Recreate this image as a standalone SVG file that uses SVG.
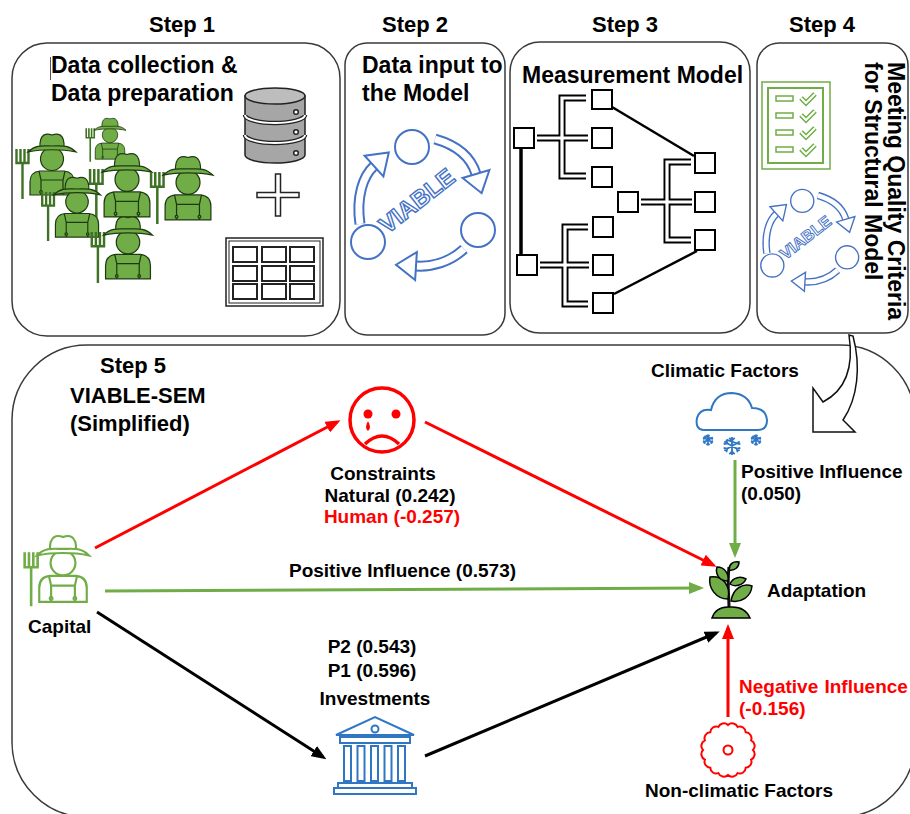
<svg xmlns="http://www.w3.org/2000/svg" xmlns:xlink="http://www.w3.org/1999/xlink" width="910" height="814" viewBox="0 0 910 814">
<style>
  text { font-family: "Liberation Sans", Arial, sans-serif; font-weight: bold; fill: #000; }
  .step { font-size: 22px; text-anchor: middle; }
  .head { font-size: 23px; }
  .lbl { font-size: 19px; }
  .mid { text-anchor: middle; }
  .red { fill: #FF0000; }
  .box { fill: #fff; stroke: #3a3a3a; stroke-width: 1.5; }
  .sq { fill: #fff; stroke: #000; stroke-width: 2; }
  .br-o { fill: none; stroke: #000; stroke-width: 7; }
  .br-i { fill: none; stroke: #fff; stroke-width: 3.2; }
  .cyc-o { fill: none; stroke: #4472C4; stroke-width: 11; }
  .cyc-i { fill: none; stroke: #fff; stroke-width: 7; }
  .cyc-c { fill: #fff; stroke: #4472C4; stroke-width: 2; }
  .icon-b { fill: none; stroke: #2F77C3; stroke-width: 2; }
  .edge { fill: none; stroke-width: 3; }
  .chk-o { fill: none; stroke: #70AD47; stroke-width: 5; stroke-linejoin: miter; }
  .chk-i { fill: none; stroke: #fff; stroke-width: 2; }
  .leaf { fill: #70AD47; stroke: #000; stroke-width: 1.5; }
  .fork { fill: none; stroke: currentColor; stroke-width: 2.4; }
</style>
<defs>
  <marker id="ah-red" markerUnits="userSpaceOnUse" markerWidth="15" markerHeight="12" refX="11" refY="6" orient="auto">
    <path d="M0,0 L15,6 L0,12 Z" fill="#FF0000"/>
  </marker>
  <marker id="ah-green" markerUnits="userSpaceOnUse" markerWidth="15" markerHeight="12" refX="11" refY="6" orient="auto">
    <path d="M0,0 L15,6 L0,12 Z" fill="#70AD47"/>
  </marker>
  <marker id="ah-black" markerUnits="userSpaceOnUse" markerWidth="15" markerHeight="12" refX="11" refY="6" orient="auto">
    <path d="M0,0 L15,6 L0,12 Z" fill="#000"/>
  </marker>
  <marker id="ah-cyc" markerUnits="userSpaceOnUse" markerWidth="24" markerHeight="32" refX="2" refY="16" orient="auto">
    <path d="M2,2 L22,16 L2,30 Z" fill="#fff" stroke="#4472C4" stroke-width="2"/>
  </marker>

  <!-- farmer figure, local origin at the hat centre -->
  <g id="farmer">
    <path class="fork" d="M-35.5,2 V16 H-23.5 V2 M-31.5,2 V16 M-27.5,2 V16 M-29.5,16 V52"/>
    <path d="M-22,48 V35 Q-22,25 -12,24 H12 Q22,25 22,35 V48 Z"/>
    <path d="M-11,48 V33 H11 V48 M-11,33 L-13,24 M11,33 L13,24" fill="none"/>
    <circle cx="-11" cy="45" r="1.3"/>
    <circle cx="11" cy="45" r="1.3"/>
    <circle cx="0" cy="12" r="11.5"/>
    <path d="M-12,1 C-13,-14 -5,-14 0,-12 C5,-14 13,-14 12,1 Z"/>
    <path d="M-24,5 C-16,-3 -8,-1 0,-1 C8,-1 16,-3 24,5 C10,2 -10,2 -24,5 Z"/>
  </g>

  <!-- snowflake -->
  <g id="flake">
    <path d="M0,-10 V10 M-8.66,-5 L8.66,5 M-8.66,5 L8.66,-5 M-3,-9 L0,-6 L3,-9 M-3,9 L0,6 L3,9 M-9.3,-2 L-5.2,-3 L-6.3,-7 M9.3,2 L5.2,3 L6.3,7 M-9.3,2 L-5.2,3 L-6.3,7 M9.3,-2 L5.2,-3 L-6.3,-7"/>
  </g>

  <!-- VIABLE cycle of three circles and curved arrows -->
  <g id="viableCycle">
    <path class="cyc-o" d="M360,224 C356,197 363,176 374,166"/>
    <path class="cyc-i" d="M360,224 C356,197 363,176 374,166" marker-end="url(#ah-cyc)"/>
    <path class="cyc-o" d="M435,139 C456,145 471,157 476,174"/>
    <path class="cyc-i" d="M435,139 C456,145 471,157 476,174" marker-end="url(#ah-cyc)"/>
    <path class="cyc-o" d="M464,249 C450,262 432,267 416,266"/>
    <path class="cyc-i" d="M464,249 C450,262 432,267 416,266" marker-end="url(#ah-cyc)"/>
    <circle class="cyc-c" cx="412" cy="147" r="17"/>
    <circle class="cyc-c" cx="478" cy="230" r="17"/>
    <circle class="cyc-c" cx="368" cy="242" r="17"/>
    <text x="0" y="8" transform="translate(417,201) rotate(-38)" text-anchor="middle" font-size="24" style="fill:#fff;stroke:#4472C4;stroke-width:1.4px">VIABLE</text>
  </g>
</defs>

<rect width="910" height="814" fill="#fff"/>

<!-- Step 1 -->
<g id="step1">
  <text class="step" x="182" y="32">Step 1</text>
  <rect class="box" x="12" y="43" width="328" height="293" rx="35"/>
  <line x1="50.5" y1="57" x2="50.5" y2="80" stroke="#555" stroke-width="1"/>
  <text class="head" x="51" y="73">Data collection &amp;</text>
  <text class="head" x="51" y="101">Data preparation</text>
  <g fill="#70AD47" stroke="#1f3a12" stroke-width="1.2" color="#3f7224">
    <use href="#farmer" transform="translate(52,147)"/>
    <use href="#farmer" transform="translate(110,127) scale(0.67)"/>
    <use href="#farmer" transform="translate(127,167) scale(1.04)"/>
    <use href="#farmer" transform="translate(188,170) scale(1.04)"/>
    <use href="#farmer" transform="translate(77,190) scale(0.98)"/>
    <use href="#farmer" transform="translate(128,230) scale(1.02)"/>
  </g>
  <!-- database -->
  <g stroke="#222" stroke-width="1.5">
    <path d="M245,96 V155 A30,8 0 0 0 305,155 V96 Z" fill="#a6a6a6"/>
    <ellipse cx="275" cy="96" rx="30" ry="8" fill="#bdbdbd"/>
    <path d="M245,115 A30,8 0 0 0 305,115 M245,135 A30,8 0 0 0 305,135" fill="none" stroke-width="4.5"/>
    <path d="M245,115 A30,8 0 0 0 305,115 M245,135 A30,8 0 0 0 305,135" fill="none" stroke="#fff" stroke-width="2"/>
    <circle cx="296" cy="112" r="2.3" fill="#fff"/>
    <circle cx="296" cy="132" r="2.3" fill="#fff"/>
    <circle cx="296" cy="153" r="2.3" fill="#fff"/>
  </g>
  <polygon points="275.5,174 280.5,174 280.5,192.5 299,192.5 299,197.5 280.5,197.5 280.5,216 275.5,216 275.5,197.5 257,197.5 257,192.5 275.5,192.5" fill="#fff" stroke="#222" stroke-width="1.5"/>
  <!-- data table -->
  <g fill="#fff" stroke="#222">
    <rect x="226" y="238" width="97" height="68" stroke-width="1.5"/>
    <rect x="229" y="241" width="91" height="62" stroke-width="1"/>
    <g stroke-width="2">
      <rect x="233" y="247" width="24" height="15"/>
      <rect x="262" y="247" width="24" height="15"/>
      <rect x="290" y="247" width="24" height="15"/>
      <rect x="233" y="266" width="24" height="15"/>
      <rect x="262" y="266" width="24" height="15"/>
      <rect x="290" y="266" width="24" height="15"/>
      <rect x="233" y="284" width="24" height="15"/>
      <rect x="262" y="284" width="24" height="15"/>
      <rect x="290" y="284" width="24" height="15"/>
    </g>
  </g>
</g>

<!-- Step 2 -->
<g id="step2">
  <text class="step" x="415" y="32">Step 2</text>
  <rect class="box" x="345" y="43" width="160" height="292" rx="22"/>
  <text class="head" x="362" y="73">Data input to</text>
  <text class="head" x="362" y="101">the Model</text>
  <use href="#viableCycle"/>
</g>

<!-- Step 3 -->
<g id="step3">
  <text class="step" x="625" y="32">Step 3</text>
  <rect class="box" x="510" y="42" width="240" height="291" rx="30"/>
  <text class="head" x="522" y="83">Measurement Model</text>
  <line x1="521" y1="148" x2="521" y2="256" stroke="#000" stroke-width="3.5"/>
  <line x1="612" y1="107" x2="694" y2="156" stroke="#000" stroke-width="2.5"/>
  <line x1="614" y1="294" x2="697" y2="251" stroke="#000" stroke-width="2.5"/>
  <path class="br-o" d="M586,98 H562 V176 H586 M537,138 H588"/>
  <path class="br-i" d="M586,98 H562 V176 H586 M537,138 H588"/>
  <path class="br-o" d="M588,227 H565 V304 H588 M540,265 H589"/>
  <path class="br-i" d="M588,227 H565 V304 H588 M540,265 H589"/>
  <path class="br-o" d="M691,162 H667 V240 H691 M641,202 H692"/>
  <path class="br-i" d="M691,162 H667 V240 H691 M641,202 H692"/>
  <rect class="sq" x="514" y="128" width="20" height="20"/>
  <rect class="sq" x="517" y="255" width="20" height="20"/>
  <rect class="sq" x="592" y="90" width="20" height="19"/>
  <rect class="sq" x="592" y="128" width="20" height="20"/>
  <rect class="sq" x="592" y="167" width="20" height="20"/>
  <rect class="sq" x="593" y="217" width="20" height="20"/>
  <rect class="sq" x="593" y="255" width="20" height="20"/>
  <rect class="sq" x="593" y="293" width="20" height="20"/>
  <rect class="sq" x="618" y="192" width="20" height="20"/>
  <rect class="sq" x="695" y="153" width="20" height="20"/>
  <rect class="sq" x="695" y="192" width="20" height="20"/>
  <rect class="sq" x="695" y="230" width="20" height="20"/>
</g>

<!-- Step 4 -->
<g id="step4">
  <text class="step" x="822" y="32">Step 4</text>
  <rect class="box" x="757" y="43" width="151" height="290" rx="22"/>
  <text class="head" transform="translate(888,62) rotate(90)">Meeting Quality Criteria</text>
  <text class="head" transform="translate(865,62) rotate(90)">for Structural Model</text>
  <g fill="none" stroke="#70AD47">
    <rect x="762" y="82" width="68" height="87" stroke-width="1.5"/>
    <rect x="768" y="88" width="55" height="75" stroke-width="2"/>
    <rect x="776" y="96" width="17" height="5" stroke-width="1.5"/>
    <rect x="776" y="113" width="17" height="5" stroke-width="1.5"/>
    <rect x="776" y="130" width="17" height="5" stroke-width="1.5"/>
    <rect x="776" y="147" width="17" height="5" stroke-width="1.5"/>
  </g>
  <path class="chk-o" d="M801,98 L806,103 L815,94 M801,115 L806,120 L815,111 M801,132 L806,137 L815,128 M801,149 L806,154 L815,145"/>
  <path class="chk-i" d="M801,98 L806,103 L815,94 M801,115 L806,120 L815,111 M801,132 L806,137 L815,128 M801,149 L806,154 L815,145"/>
  <use href="#viableCycle" transform="translate(807,241) scale(0.68) translate(-419,-206)"/>
</g>

<!-- Step 5 frame and link from step 4 -->
<g id="step5">
  <rect class="box" x="12" y="345" width="903" height="472" rx="75"/>
  <path d="M849,335 C854,368 846,390 823,402 L813,388 L813,432 L855,432 L843,420 C858,398 861,366 853,336 Z" fill="#fff" stroke="#111" stroke-width="1.5" stroke-linejoin="miter"/>
  <text class="step" x="100" y="373" style="text-anchor:start">Step 5</text>
  <text class="step" x="70" y="403" style="text-anchor:start">VIABLE-SEM</text>
  <text class="step" x="70" y="431" style="text-anchor:start">(Simplified)</text>
</g>

<!-- connectors -->
<g id="connectors">
  <line class="edge" x1="95" y1="548" x2="337" y2="422" stroke="#FF0000" marker-end="url(#ah-red)"/>
  <line class="edge" x1="425" y1="422" x2="713" y2="565" stroke="#FF0000" marker-end="url(#ah-red)"/>
  <line class="edge" x1="105" y1="591" x2="700" y2="588" stroke="#70AD47" marker-end="url(#ah-green)"/>
  <line class="edge" x1="735" y1="460" x2="735" y2="554" stroke="#70AD47" marker-end="url(#ah-green)"/>
  <line class="edge" x1="97" y1="612" x2="323" y2="757" stroke="#000" marker-end="url(#ah-black)"/>
  <line class="edge" x1="425" y1="756" x2="716" y2="633" stroke="#000" marker-end="url(#ah-black)"/>
  <line class="edge" x1="728" y1="717" x2="728" y2="628" stroke="#FF0000" marker-end="url(#ah-red)"/>
  <text class="lbl" x="289" y="577">Positive Influence (0.573)</text>
  <text class="lbl" x="741" y="478">Positive Influence</text>
  <text class="lbl" x="741" y="500">(0.050)</text>
  <text class="lbl red" x="739" y="693" word-spacing="1">Negative Influence</text>
  <text class="lbl red" x="739" y="715">(-0.156)</text>
</g>

<!-- Capital -->
<g id="capital">
  <use href="#farmer" transform="translate(63,550) scale(1.08)" fill="#fff" stroke="#70AD47" stroke-width="2" color="#70AD47"/>
  <text class="lbl" x="28" y="633">Capital</text>
</g>

<!-- Constraints -->
<g id="constraints">
  <circle cx="382" cy="420" r="32" fill="#fff" stroke="#FF0000" stroke-width="3.5"/>
  <circle cx="368" cy="414" r="4.5" fill="#FF0000"/>
  <circle cx="396" cy="414" r="4.5" fill="#FF0000"/>
  <path d="M368,421 Q364,428 368,431 Q372,428 368,421 Z" fill="#FF0000"/>
  <path d="M365,444 Q382,428 399,444" fill="none" stroke="#FF0000" stroke-width="3.5"/>
  <text class="lbl mid" x="383" y="480">Constraints</text>
  <text class="lbl mid" x="390" y="502">Natural (0.242)</text>
  <text class="lbl mid red" x="392" y="523">Human (-0.257)</text>
</g>

<!-- Climatic Factors -->
<g id="climatic">
  <text class="lbl mid" x="725" y="377">Climatic Factors</text>
  <path class="icon-b" d="M703,430 Q695,429 697,418 Q700,408 711,410 Q715,393 732,393 Q748,394 752,408 Q766,408 767,420 Q767,430 758,430 Z"/>
  <use href="#flake" transform="translate(732,446) scale(0.9)" stroke="#2F77C3" stroke-width="2" fill="none"/>
  <use href="#flake" transform="translate(708,440) scale(0.55)" stroke="#2F77C3" stroke-width="3" fill="none"/>
  <use href="#flake" transform="translate(756,440) scale(0.55)" stroke="#2F77C3" stroke-width="3" fill="none"/>
</g>

<!-- Adaptation -->
<g id="adaptation">
  <path d="M729,608 C729,595 727,585 729,567" fill="none" stroke="#111" stroke-width="3"/>
  <path class="leaf" d="M728,599 C716,599 708,588 710,577 C722,575 731,585 728,599 Z"/>
  <path class="leaf" d="M731,601 C733,588 743,583 752,586 C751,597 741,603 731,601 Z"/>
  <path class="leaf" d="M728,581 C719,581 715,574 717,567 C725,567 729,574 728,581 Z"/>
  <path class="leaf" d="M730,584 C733,577 741,576 746,579 C743,586 734,587 730,584 Z"/>
  <path class="leaf" d="M729,570 C729,564 733,561 739,562 C739,567 735,571 729,570 Z"/>
  <path class="leaf" d="M712,618 Q716,606 730,607 Q745,606 750,618 Z"/>
  <text class="lbl" x="767" y="597">Adaptation</text>
</g>

<!-- Investments -->
<g id="investments">
  <text class="lbl mid" x="372" y="653">P2 (0.543)</text>
  <text class="lbl mid" x="372" y="677">P1 (0.596)</text>
  <text class="lbl mid" x="375" y="705">Investments</text>
  <g class="icon-b">
    <path d="M336,735 L375,717 L414,735 Z"/>
    <circle cx="375" cy="729" r="3.5"/>
    <rect x="340" y="737" width="70" height="6"/>
    <rect x="344" y="746" width="7" height="35"/>
    <rect x="357.5" y="746" width="7" height="35"/>
    <rect x="371" y="746" width="7" height="35"/>
    <rect x="384.5" y="746" width="7" height="35"/>
    <rect x="398" y="746" width="7" height="35"/>
    <rect x="338" y="783" width="74" height="5"/>
    <rect x="334" y="788" width="82" height="6"/>
  </g>
</g>

<!-- Non-climatic Factors -->
<g id="nonclimatic">
  <path d="M753,750 A6,6 0 0 1 751.1,759.6 A6,6 0 0 1 745.7,767.7 A6,6 0 0 1 737.6,773.1 A6,6 0 0 1 728,775 A6,6 0 0 1 718.4,773.1 A6,6 0 0 1 710.3,767.7 A6,6 0 0 1 704.9,759.6 A6,6 0 0 1 703,750 A6,6 0 0 1 704.9,740.4 A6,6 0 0 1 710.3,732.3 A6,6 0 0 1 718.4,726.9 A6,6 0 0 1 728,725 A6,6 0 0 1 737.6,726.9 A6,6 0 0 1 745.7,732.3 A6,6 0 0 1 751.1,740.4 A6,6 0 0 1 753,750 Z" fill="#fff" stroke="#FF0000" stroke-width="2"/>
  <circle cx="728" cy="750" r="4.5" fill="none" stroke="#FF0000" stroke-width="2"/>
  <text class="lbl mid" x="739" y="797">Non-climatic Factors</text>
</g>
</svg>
